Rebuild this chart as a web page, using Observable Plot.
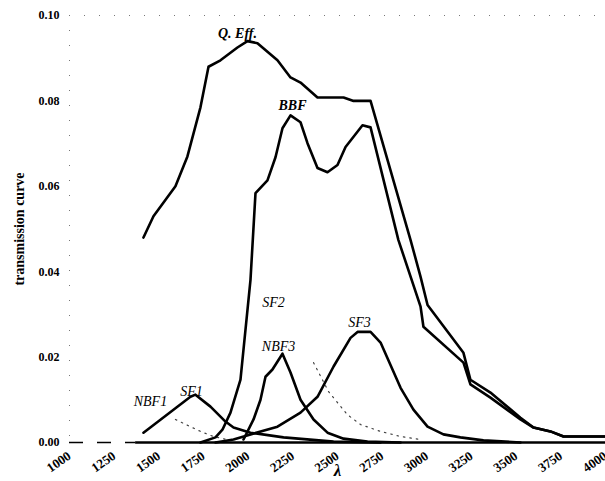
<!DOCTYPE html>
<html><head><meta charset="utf-8">
<script src="https://cdn.jsdelivr.net/npm/d3@7"></script>
<script src="https://cdn.jsdelivr.net/npm/@observablehq/plot@0.6"></script>
<style>body{margin:0;background:#fff;} #chart{width:605px;height:481px;}</style>
</head><body><div id="chart"></div>
<script>
// Tick values
const xTicks = [1000,1250,1500,1750,2000,2250,2500,2750,3000,3250,3500,3750,4000];
const yTicks = [0,0.02,0.04,0.06,0.08,0.10];

// Q. Eff. (quantum efficiency)
const qeffWavelength = [1414,1470,1593,1660,1733,1778,1845,1940,1996,2052,2164,2237,2293,2388,2534,2590,2685,2909,2965,3004,3205,3244,3356,3524,3597,3692,3765,4000];
const qeffValue = [0.048,0.053,0.060,0.067,0.0785,0.088,0.0895,0.0925,0.094,0.0935,0.0895,0.0855,0.0843,0.0808,0.0808,0.080,0.080,0.0474,0.0388,0.0322,0.021,0.0147,0.0117,0.0058,0.0035,0.0026,0.0014,0.0014];

// BBF
const bbfWavelength = [1733,1817,1856,1901,1957,2013,2041,2108,2153,2192,2237,2293,2332,2388,2444,2500,2545,2640,2685,2841,2965,2981,3205,3244,3356,3524,3597,3692,3765,4000];
const bbfValue = [0,0.0012,0.003,0.007,0.0147,0.0381,0.0584,0.0614,0.0668,0.0736,0.0766,0.075,0.0701,0.0643,0.0633,0.065,0.0692,0.0743,0.0738,0.0474,0.0318,0.0271,0.0187,0.0136,0.0105,0.0054,0.0035,0.0026,0.0014,0.0014];

// SF1 / NBF1
const sf1Wavelength = [1414,1677,1705,1789,1873,1918,2013,2198,2478,2741];
const sf1Value = [0.0023,0.0107,0.0112,0.0084,0.0049,0.0035,0.0023,0.0012,0.0002,0];

// NBF3
const nbf3Wavelength = [1974,2030,2069,2097,2136,2192,2237,2293,2366,2444,2534,2668,2853];
const nbf3Value = [0.0007,0.0054,0.01,0.0154,0.0171,0.0208,0.0164,0.01,0.0054,0.0023,0.0009,0.0002,0];

// SF3
const sf3Wavelength = [1817,1918,2013,2164,2293,2388,2478,2573,2612,2685,2741,2853,2925,3004,3093,3188,3317,3524];
const sf3Value = [0,0.0007,0.0019,0.0037,0.007,0.0107,0.0178,0.0245,0.0259,0.0259,0.0234,0.0128,0.0077,0.0037,0.0019,0.0012,0.0005,0];

// faint dotted curves
const dot1Wavelength = [1593,1677,1733,1806,1901];
const dot1Value = [0.0054,0.0037,0.0026,0.0014,0.0005];
const dot2Wavelength = [2366,2450,2556,2629,2741,2853,2965];
const dot2Value = [0.0187,0.0119,0.0065,0.0042,0.0026,0.0014,0.0007];

// curve labels
const labelText = ["Q. Eff.","BBF","SF2","NBF3","SF3","SF1","NBF1"];
const labelX = [1940,2248,2142,2170,2623,1683,1453];
const labelY = [0.0958,0.079,0.0329,0.0224,0.028,0.0119,0.0096];
const boldLabels = ["Q. Eff.","BBF"];

const xLabel = "λ";
const xLabelPos = [2500, -0.0065];
const yLabel = "transmission curve";

const rows = (w, v) => w.map((x, i) => ({x, y: v[i]}));
const labels = labelText.map((t, i) => ({t, x: labelX[i], y: labelY[i]}));
const curves = [[qeffWavelength,qeffValue],[bbfWavelength,bbfValue],[sf1Wavelength,sf1Value],[nbf3Wavelength,nbf3Value],[sf3Wavelength,sf3Value]];
const dotted = [[dot1Wavelength,dot1Value],[dot2Wavelength,dot2Value]];

const chart = Plot.plot({
  width: 605, height: 481,
  marginLeft: 69, marginRight: 0, marginTop: 15, marginBottom: 39,
  style: {fontFamily: "'Liberation Serif', serif", background: "#fff", color: "#000"},
  x: {domain: [1000, 4000]},
  y: {domain: [0, 0.1]},
  marks: [
    Plot.ruleY([0.1], {stroke: "#777", strokeWidth: 1, strokeDasharray: "1,14"}),
    Plot.ruleX([1000], {stroke: "#777", strokeWidth: 1, strokeDasharray: "1,14"}),
    Plot.ruleY([0], {x1: 1000, x2: 1370, stroke: "#000", strokeWidth: 1.5, strokeDasharray: "14,14"}),
    Plot.ruleY([0], {x1: 1370, x2: 4000, stroke: "#000", strokeWidth: 2.4}),
    Plot.axisY({ticks: yTicks, tickSize: 0, tickPadding: 10, tickFormat: d => d.toFixed(2), label: null, fontSize: 12, fontWeight: "bold"}),
    Plot.axisX({ticks: xTicks, tickSize: 0, tickPadding: 12, tickRotate: -35, tickFormat: d => String(d), label: null, fontSize: 13, fontWeight: "bold", textAnchor: "end"}),
    ...dotted.map(([w, v]) => Plot.line(rows(w, v), {x: "x", y: "y", stroke: "#444", strokeWidth: 1.2, strokeDasharray: "1.5,5"})),
    ...curves.map(([w, v]) => Plot.line(rows(w, v), {x: "x", y: "y", stroke: "#000", strokeWidth: 2.6})),
    Plot.text(labels.filter(d => boldLabels.includes(d.t)), {x: "x", y: "y", text: "t", fontSize: 14, fontStyle: "italic", fontWeight: "bold", fill: "#000"}),
    Plot.text(labels.filter(d => !boldLabels.includes(d.t)), {x: "x", y: "y", text: "t", fontSize: 14, fontStyle: "italic", fill: "#000"}),
    Plot.text([xLabel], {x: xLabelPos[0], y: xLabelPos[1], fontSize: 17, fontStyle: "italic", fontWeight: "bold"}),
    Plot.text([yLabel], {frameAnchor: "left", dx: -50, rotate: -90, textAnchor: "middle", fontSize: 14, fontWeight: "bold", letterSpacing: "1.5px"})
  ]
});
document.getElementById("chart").appendChild(chart);
</script>
</body></html>
